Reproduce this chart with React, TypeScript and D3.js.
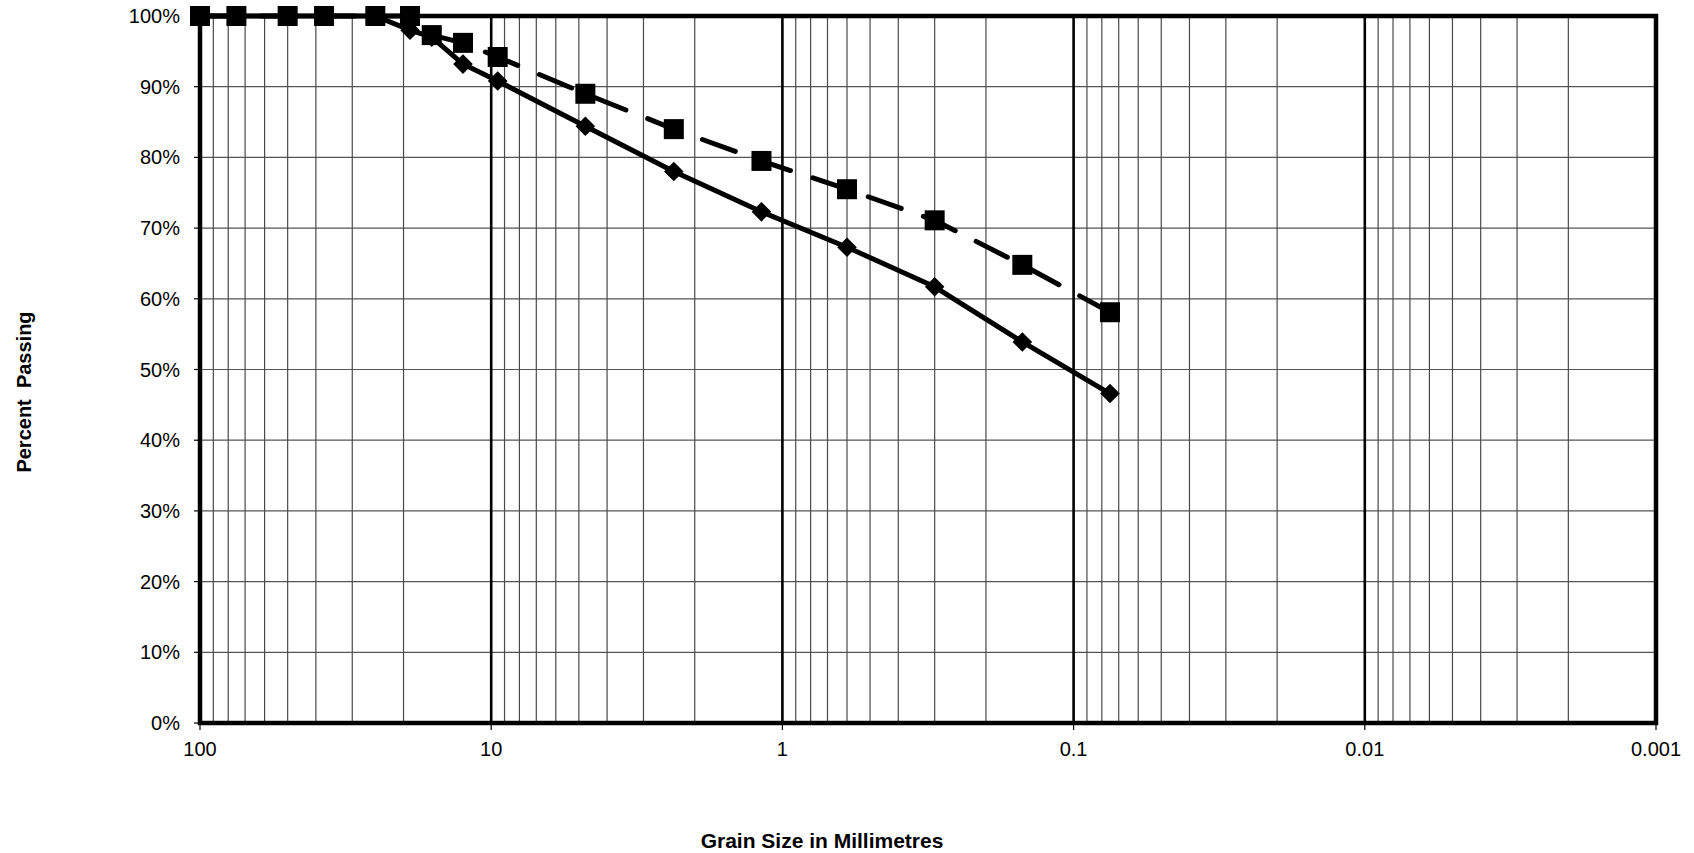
import React from "react";
import * as d3 from "d3";

const sieveSizes = [100, 75, 50, 37.5, 25, 19, 16, 12.5, 9.5, 4.75, 2.36, 1.18, 0.6, 0.3, 0.15, 0.075];
const seriesDiamond = [100, 100, 100, 100, 100, 98.0, 97.0, 93.2, 90.8, 84.4, 78.0, 72.3, 67.3, 61.7, 53.9, 46.6];
const seriesSquare = [100, 100, 100, 100, 100, 100, 97.3, 96.2, 94.2, 89.0, 84.0, 79.5, 75.5, 71.1, 64.8, 58.1];
const xTickValues = [100, 10, 1, 0.1, 0.01, 0.001];
const xTickLabels = ["100", "10", "1", "0.1", "0.01", "0.001"];
const yTickValues = [0, 10, 20, 30, 40, 50, 60, 70, 80, 90, 100];

const W = 1694;
const H = 853;
const L = 200, R = 1656, T = 16, B = 723;

export default function App() {
  const x = d3.scaleLog().domain([100, 0.001]).range([L, R]);
  const y = d3.scaleLinear().domain([0, 100]).range([B, T]);

  const minor: number[] = [];
  for (let e = -3; e < 2; e++) {
    for (let m = 2; m <= 9; m++) minor.push(m * Math.pow(10, e));
  }
  const decadesInner = [10, 1, 0.1, 0.01];

  const line = d3
    .line<number>()
    .x((_, i) => x(sieveSizes[i]))
    .y((v) => y(v));

  const diamond = (cx: number, cy: number, r: number) =>
    `M${cx},${cy - r}L${cx + r},${cy}L${cx},${cy + r}L${cx - r},${cy}Z`;

  return (
    <svg
      width={W}
      height={H}
      style={{ position: "absolute", left: 0, top: 0, background: "#fff" }}
      fontFamily="'Liberation Sans', Arial, sans-serif"
    >
      <rect x={0} y={0} width={W} height={H} fill="#fff" />
      {/* horizontal grid */}
      {yTickValues.map((v) => (
        <line key={"h" + v} x1={L} x2={R} y1={y(v)} y2={y(v)} stroke="#555" strokeWidth={1.2} />
      ))}
      {/* minor vertical grid */}
      {minor.map((v, i) => (
        <line key={"m" + i} x1={x(v)} x2={x(v)} y1={T} y2={B} stroke="#4a4a4a" strokeWidth={1.2} />
      ))}
      {/* decade lines */}
      {decadesInner.map((v) => (
        <line key={"d" + v} x1={x(v)} x2={x(v)} y1={T} y2={B} stroke="#000" strokeWidth={2.6} />
      ))}
      {/* y ticks */}
      {yTickValues.map((v) => (
        <g key={"yt" + v}>
          <line x1={L - 6} x2={L} y1={y(v)} y2={y(v)} stroke="#000" strokeWidth={1.2} />
          <text x={180} y={y(v) + 7} textAnchor="end" fontSize={20} fill="#000">
            {v + "%"}
          </text>
        </g>
      ))}
      {/* x ticks */}
      {xTickValues.map((v, i) => (
        <g key={"xt" + v}>
          <line x1={x(v)} x2={x(v)} y1={B} y2={B + 7} stroke="#000" strokeWidth={1.2} />
          <text x={x(v)} y={756} textAnchor="middle" fontSize={20} fill="#000">
            {xTickLabels[i]}
          </text>
        </g>
      ))}
      {/* plot border */}
      <rect x={L} y={T} width={R - L} height={B - T} fill="none" stroke="#000" strokeWidth={4.5} />

      {/* series: diamonds, solid */}
      <path d={line(seriesDiamond) || ""} fill="none" stroke="#000" strokeWidth={5} strokeLinejoin="round" />
      {seriesDiamond.map((v, i) => (
        <path key={"dm" + i} d={diamond(x(sieveSizes[i]), y(v), 9.8)} fill="#000" />
      ))}

      {/* series: squares, dashed */}
      <path
        d={line(seriesSquare) || ""}
        fill="none"
        stroke="#000"
        strokeWidth={5}
        strokeDasharray="35 23.5"
        strokeDashoffset={55.7}
        strokeLinecap="round"
        strokeLinejoin="round"
      />
      {seriesSquare.map((v, i) => (
        <rect key={"sq" + i} x={x(sieveSizes[i]) - 10} y={y(v) - 10} width={20} height={20} fill="#000" />
      ))}

      {/* axis titles */}
      <text x={822} y={848} textAnchor="middle" fontSize={21} fontWeight="bold" fill="#000">
        Grain Size in Millimetres
      </text>
      <text
        transform="translate(31,392) rotate(-90)"
        textAnchor="middle"
        fontSize={20}
        fontWeight="bold"
        fill="#000"
        style={{ whiteSpace: "pre" }}
      >
        {"Percent  Passing"}
      </text>
    </svg>
  );
}
